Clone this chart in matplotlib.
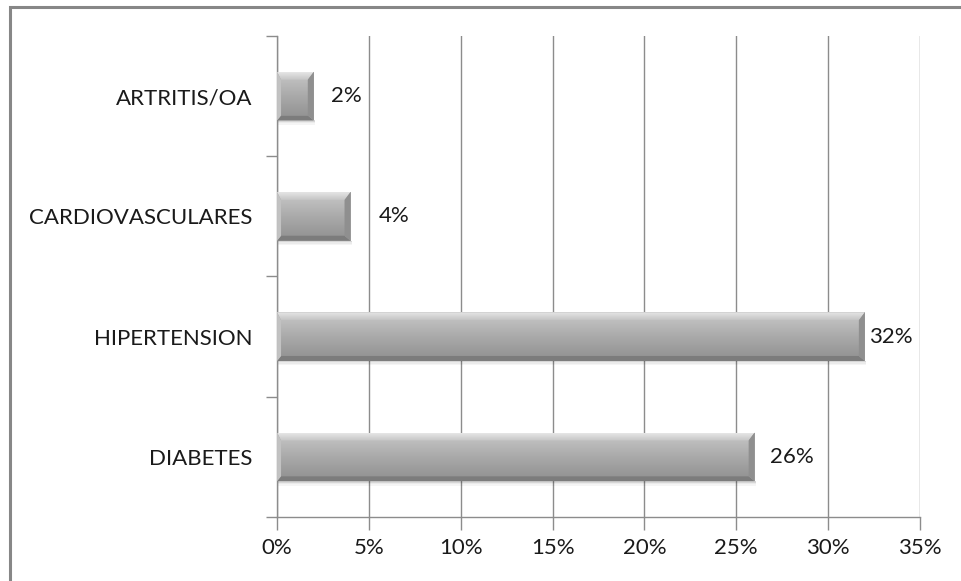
import matplotlib.pyplot as plt
import numpy as np
from matplotlib.colors import LinearSegmentedColormap
from matplotlib.patches import Polygon, Rectangle

plt.rcParams['font.family'] = ['Lato', 'DejaVu Sans']

categories = ['DIABETES', 'HIPERTENSION', 'CARDIOVASCULARES', 'ARTRITIS/OA']
values = [26, 32, 4, 2]
value_labels = ['26%', '32%', '4%', '2%']
label_pad = [15, 4, 28, 17]  # px gap between bar end and its label
xticks = [0, 5, 10, 15, 20, 25, 30, 35]

fig = plt.figure(figsize=(9.62, 5.81), dpi=100)
ax = fig.add_axes([0.288, 0.1102, 0.6683, 0.8278])

# outer chart frame (top and left edges only are inside the picture)
fig.patches.append(Rectangle((10 / 962, -0.1), 1.2, 1 - 7 / 581 + 0.1,
                             transform=fig.transFigure, fill=False,
                             edgecolor='#878787', linewidth=2.2, zorder=0))

bar_h = 0.405
bars = ax.barh(range(len(categories)), values, height=bar_h, color='#a6a6a6',
               edgecolor='none', zorder=3)

face_cmap = LinearSegmentedColormap.from_list('face', ['#959595', '#a8a8a8', '#bebebe'])
top_cmap = LinearSegmentedColormap.from_list('topbev', ['#c4c4c4', '#e6e6e6'])

# pixel size in data units
px_x = 35 / 643
px_y = 4 / 481

for rect in bars:
    x0, y0 = rect.get_x(), rect.get_y()
    w, h = rect.get_width(), rect.get_height()
    x1, y1 = x0 + w, y0 + h
    bt, bb, br, bl = 8 * px_y, 5 * px_y, 6 * px_x, 4 * px_x
    # soft shadow under the bar
    for k, a in enumerate([0.16, 0.08, 0.04]):
        ax.add_patch(Rectangle((x0 + px_x, y0 - (k + 1) * px_y * 1.5), w, px_y * 1.5,
                               facecolor='black', alpha=a, edgecolor='none', zorder=2))
    grad = np.linspace(0, 1, 64).reshape(-1, 1)
    # gradient face
    ax.imshow(grad, cmap=face_cmap, aspect='auto', origin='lower',
              extent=(x0 + bl, x1 - br, y0 + bb, y1 - bt), zorder=4)
    # top bevel, clipped to its trapezoid
    top = Polygon([(x0, y1), (x1, y1), (x1 - br, y1 - bt), (x0 + bl, y1 - bt)],
                  closed=True, facecolor='none', edgecolor='none', zorder=5)
    ax.add_patch(top)
    im = ax.imshow(grad, cmap=top_cmap, aspect='auto', origin='lower',
                   extent=(x0, x1, y1 - bt, y1), zorder=5)
    im.set_clip_path(top)
    ax.add_patch(Polygon([(x0, y0), (x1, y0), (x1 - br, y0 + bb), (x0 + bl, y0 + bb)],
                         closed=True, facecolor='#7c7c7c', edgecolor='none', zorder=5))
    ax.add_patch(Polygon([(x1, y0), (x1, y1), (x1 - br, y1 - bt), (x1 - br, y0 + bb)],
                         closed=True, facecolor='#8f8f8f', edgecolor='none', zorder=5))
    ax.add_patch(Polygon([(x0, y0), (x0, y1), (x0 + bl, y1 - bt), (x0 + bl, y0 + bb)],
                         closed=True, facecolor='#c2c2c2', edgecolor='none', zorder=5))

for i, (v, lab, pad) in enumerate(zip(values, value_labels, label_pad)):
    ax.annotate(lab, (v, i), xytext=(pad * 0.72, 0), textcoords='offset points',
                ha='left', va='center', fontsize=16, color='#1a1a1a', zorder=6)

ax.set_xlim(0, 35)
ax.set_ylim(-0.5, len(categories) - 0.5)
ax.set_xticks(xticks)
ax.set_xticklabels([f'{t}%' for t in xticks])
ax.set_yticks(np.arange(len(categories) + 1) - 0.5, minor=False)
ax.set_yticklabels([])
ax.set_yticks(range(len(categories)), minor=True)
ax.set_yticklabels(categories, minor=True)
ax.tick_params(axis='y', which='minor', length=0, pad=18, labelsize=16)
ax.tick_params(axis='y', which='major', length=8, width=1, color='#8c8c8c')
ax.tick_params(axis='x', length=9, width=1, color='#8c8c8c', labelsize=16, pad=6)
for lab in ax.get_xticklabels() + ax.get_yticklabels(minor=True):
    lab.set_color('#1a1a1a')

ax.grid(axis='x', color='#8c8c8c', linewidth=1, zorder=1)
ax.set_axisbelow(True)
for s in ['top', 'right']:
    ax.spines[s].set_visible(False)
for s in ['left', 'bottom']:
    ax.spines[s].set_color('#8c8c8c')
    ax.spines[s].set_linewidth(1)

fig.savefig('out.png', dpi=100)
